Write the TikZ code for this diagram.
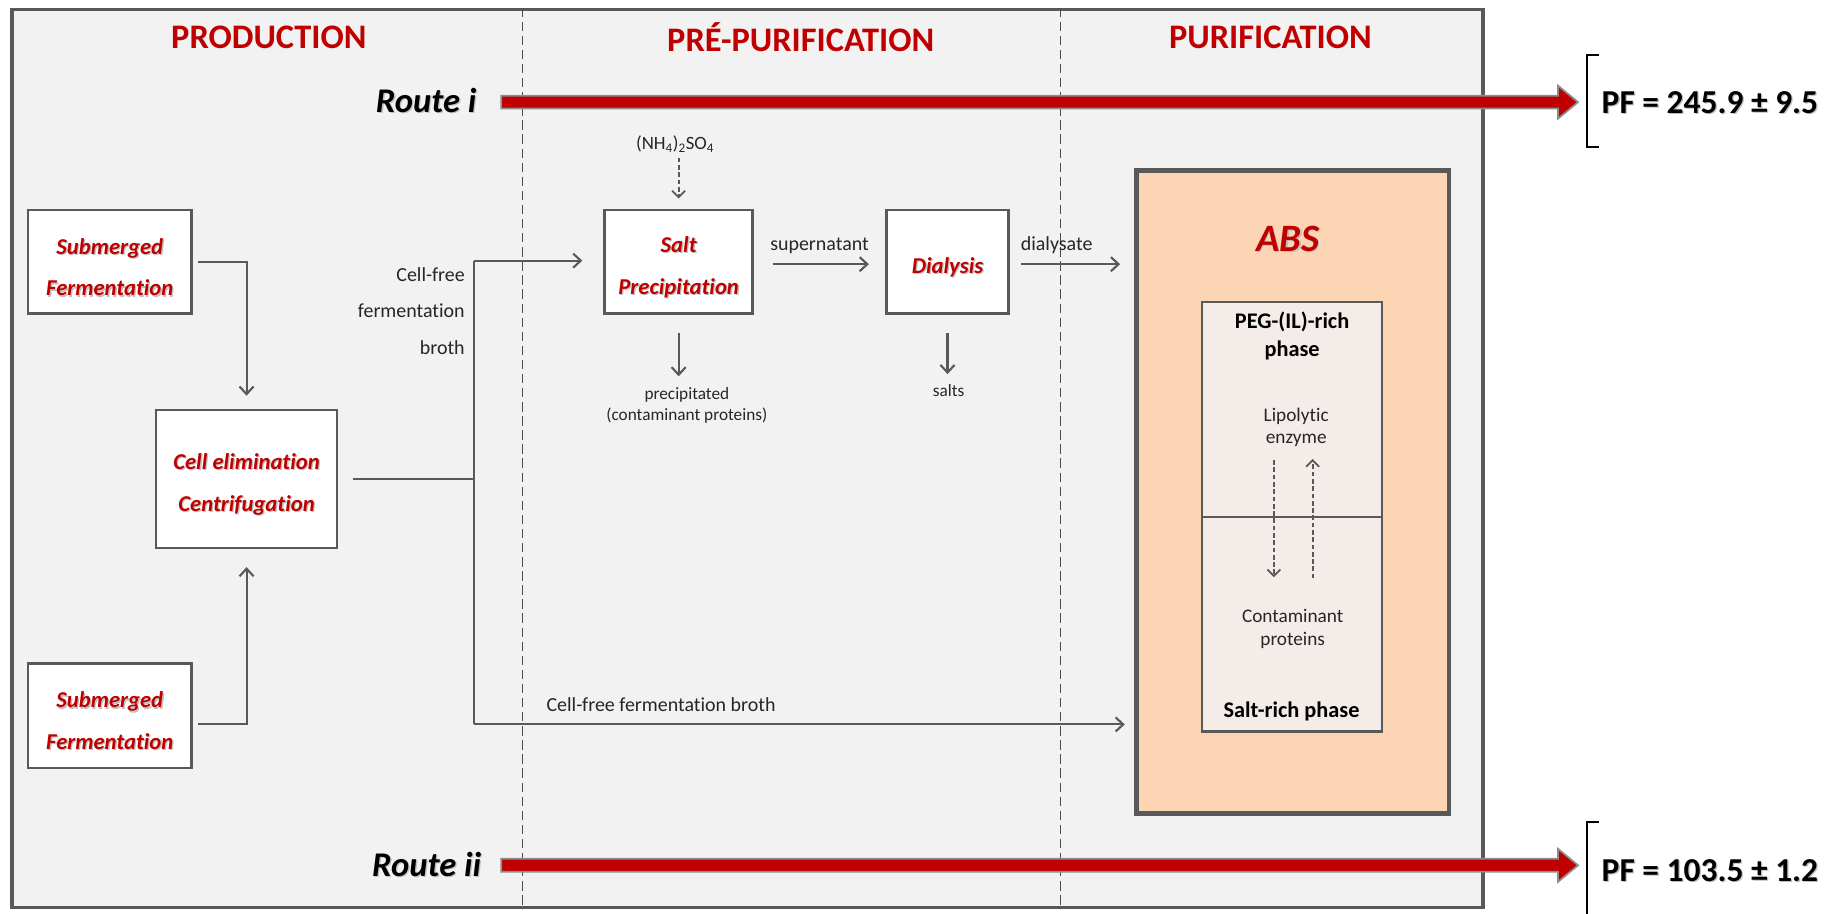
\documentclass[tikz,border=0pt]{standalone}
\usepackage{fontspec}
\setmainfont{Carlito}[Ligatures=NoCommon]
\usetikzlibrary{arrows.meta}
\definecolor{dred}{HTML}{C00000}
\definecolor{lgray}{HTML}{F2F2F2}
\definecolor{bgray}{HTML}{595959}
\definecolor{peach}{HTML}{FCD5B5}
\definecolor{innerc}{HTML}{F3ECE8}
\definecolor{txt}{HTML}{262626}
\newcommand\shd[1]{\leavevmode\rlap{\kern1.1pt\raisebox{-1.1pt}{\textcolor{black!25}{#1}}}#1}
\newcommand\bx[1]{\raisebox{-5pt}[\height][\depth]{\shd{#1}}}
\begin{document}
\begin{tikzpicture}[x=1pt,y=-1pt,
  box/.style={draw=bgray, line width=2pt, fill=white, inner sep=0pt, align=center, text=dred,
    font=\fontsize{19.3}{35.5}\selectfont\bfseries\itshape},
  hdr/.style={text=dred, inner sep=0pt, font=\fontsize{29.3}{34}\selectfont\bfseries},
  route/.style={inner sep=0pt, font=\fontsize{29.5}{34}\selectfont\bfseries\itshape},
  pf/.style={inner sep=0pt, anchor=west, font=\fontsize{28.5}{32}\selectfont\bfseries},
  lbl/.style={inner sep=0pt, text=txt, align=center, font=\fontsize{17}{31.5}\selectfont},
  slbl/.style={inner sep=0pt, text=txt, align=center, font=\fontsize{14.7}{18}\selectfont},
  phase/.style={inner sep=0pt, align=center, font=\fontsize{19}{24}\selectfont\bfseries},
  itxt/.style={inner sep=0pt, text=txt, align=center, font=\fontsize{16.4}{19.5}\selectfont},
  plain/.style={draw=bgray, line width=1.8pt},
  conn/.style={plain, -{Straight Barb[length=6.5pt,width=12pt]}},
  dconn/.style={draw=bgray, line width=1.5pt, dash pattern=on 4pt off 2.2pt, -{Straight Barb[length=5.5pt,width=11pt]}},
  divider/.style={draw=black!70, line width=1pt, dash pattern=on 8pt off 4pt},
  routearrow/.style={fill=dred, draw=black!45, line width=1.5pt},
  bracket/.style={draw=black, line width=1.8pt}
]
\useasboundingbox (0,0) rectangle (1568,778);

% outer frame
\node[draw=bgray, line width=3pt, fill=lgray, minimum width=1253pt, minimum height=765pt, inner sep=0pt] (frame) at (636.5,390.5) {};
\coordinate (d1) at (445,0);
\coordinate (d2) at (903,0);
\draw[divider] (d1 |- frame.north) -- (d1 |- frame.south);
\draw[divider] (d2 |- frame.north) -- (d2 |- frame.south);

% headers
\node[hdr] (h1) at (229,32) {PRODUCTION};
\node[hdr] (h2) at (682,32) {PRÉ-PURIFICATION};
\node[hdr] (h3) at (1082,32) {PURIFICATION};

% routes
\node[route, anchor=east] (r1) at (406,86) {\shd{Route i}};
\node[route, anchor=east] (r2) at (410,737) {\shd{Route ii}};
\draw[routearrow, shift={(427,87)}] (0,-5.5) -- (900,-5.5) -- (900,-14) -- (917,0) -- (900,14) -- (900,5.5) -- (0,5.5) -- cycle;
\draw[routearrow, shift={(427,737)}] (0,-5.5) -- (900,-5.5) -- (900,-14) -- (917,0) -- (900,14) -- (900,5.5) -- (0,5.5) -- cycle;
\draw[bracket] (1362,47) -- (1352,47) -- (1352,125) -- (1362,125);
\draw[bracket] (1362,700) -- (1352,700) -- (1352,795);
\node[pf] (pf1) at (1364,88) {\shd{PF = 245.9 ± 9.5}};
\node[pf] (pf2) at (1364,742) {\shd{PF = 103.5 ± 1.2}};

% production boxes
\node[box, minimum width=139pt, minimum height=88pt] (sub1) at (93.5,223) {\bx{Submerged}\\\bx{Fermentation}};
\node[box, minimum width=154pt, minimum height=118pt] (cell) at (210,408) {\bx{Cell elimination}\\\bx{Centrifugation}};
\node[box, minimum width=139pt, minimum height=89pt] (sub2) at (93.5,609.5) {\bx{Submerged}\\\bx{Fermentation}};

% pre-purification boxes
\node[box, minimum width=126pt, minimum height=88pt] (salt) at (578,223) {\bx{Salt}\\\bx{Precipitation}};
\node[box, minimum width=104pt, minimum height=88pt] (dial) at (807,223) {\bx{Dialysis}};

% ABS
\node[draw=bgray, line width=4pt, fill=peach, minimum width=266pt, minimum height=548pt, inner sep=0pt] (abs) at (1101,419) {};
\node[text=dred, inner sep=0pt, font=\fontsize{33}{36}\selectfont\bfseries\itshape] (abslbl) at (1097,204) {\shd{ABS}};
\node[draw=bgray, line width=2pt, fill=innerc, minimum width=153pt, minimum height=366pt, inner sep=0pt] (inner) at (1100.5,440) {};
\draw[plain] (inner.west) -- (inner.east);
\node[phase] (peg) at (1100.5,286) {PEG-(IL)-rich\\phase};
\node[itxt] (lip) at (1104,364) {Lipolytic\\enzyme};
\node[itxt] (cont) at (1101,535.5) {Contaminant\\proteins};
\node[phase] (saltph) at (1100,606) {Salt-rich phase};
\draw[dconn, shorten <=11pt, shorten >=27pt] ([xshift=-19pt]lip.south) -- ([xshift=-19pt]lip.south |- cont.north);
\draw[dconn, shorten <=26pt, shorten >=10pt] ([xshift=14pt]lip.south |- cont.north) -- ([xshift=14pt]lip.south);

% labels
\node[lbl, anchor=east, align=right] (cfb) at (396,265) {Cell-free\\fermentation\\broth};
\node[lbl] (cfb2) at (563,600) {Cell-free fermentation broth};
\node[lbl] (sup) at (698,209) {supernatant};
\node[lbl] (dlys) at (900,209) {dialysate};
\node[slbl, font=\fontsize{16}{18}\selectfont] (nh) at (575,123) {(NH\textsubscript{4})\textsubscript{2}SO\textsubscript{4}};
\node[slbl] (prec) at (585,345) {precipitated\\(contaminant proteins)};
\node[slbl] (salts) at (808,333) {salts};

% connectors
\coordinate (j) at (404,408);
\coordinate (jt) at (404,222);
\coordinate (jb) at (404,617);
\draw[conn, shorten <=5pt, shorten >=11pt] (sub1.east) -| (cell.north);
\draw[conn, shorten <=5pt, shorten >=15pt] ([yshift=-7pt]sub2.east) -| (cell.south);
\draw[plain, shorten <=13pt] (cell.east) -- (j);
\draw[plain] (jt) -- (jb);
\draw[conn, shorten >=18pt] (jt) -- (jt -| salt.west);
\draw[conn, shorten >=8pt] (jb) -- (jb -| abs.west);
\draw[conn, shorten <=16pt, shorten >=14pt] ([yshift=-2pt]salt.east) -- ([yshift=-2pt]dial.west);
\draw[conn, shorten <=10pt, shorten >=12pt] ([yshift=-2pt]dial.east) -- ([yshift=-2pt]dial.east -| abs.west);
\draw[dconn, shorten <=4pt, shorten >=9pt] (nh.south -| salt.north) -- (salt.north);
\draw[conn, shorten <=16pt, shorten >=9pt] (salt.south) -- (salt.south |- prec.north);
\draw[conn, shorten <=16pt, shorten >=9pt] (dial.south) -- (dial.south |- salts.north);
\end{tikzpicture}
\end{document}
